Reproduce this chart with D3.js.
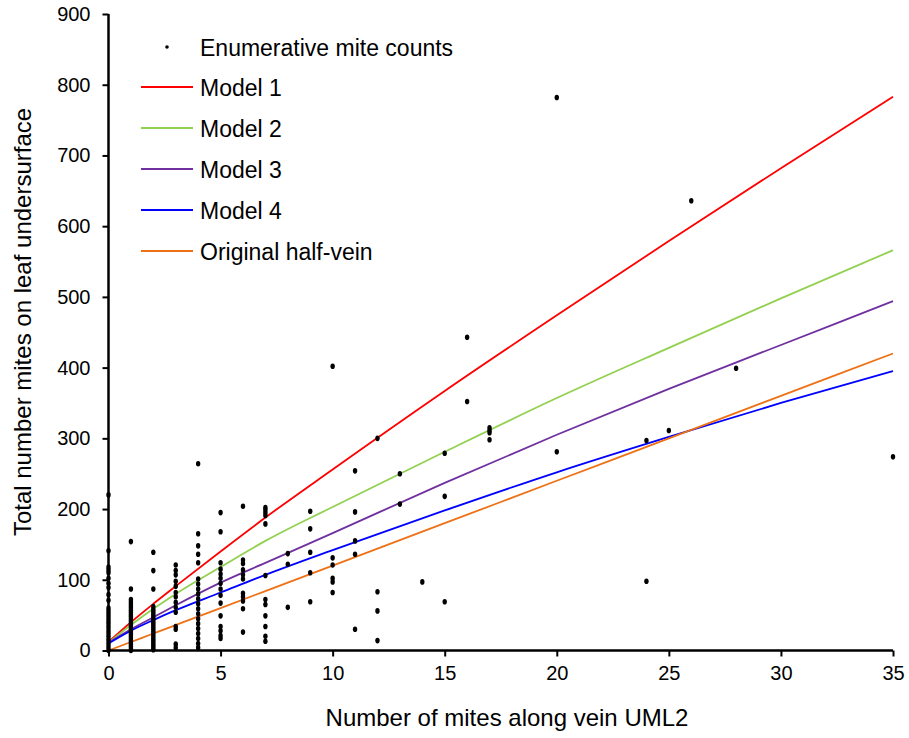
<!DOCTYPE html>
<html><head><meta charset="utf-8">
<script src="https://cdn.jsdelivr.net/npm/d3@7/dist/d3.min.js"></script>
<style>
body{margin:0;background:#fff}
svg{display:block}
text{font-family:Arial,"Liberation Sans",sans-serif;fill:#000}
</style>
</head><body>
<svg id="chart" width="909" height="738"></svg>
<script>
// ---- data ----
const xTicks = [0, 5, 10, 15, 20, 25, 30, 35];
const yTicks = [0, 100, 200, 300, 400, 500, 600, 700, 800, 900];

// enumerative mite counts, grouped by x (mites along vein UML2)
const countColumns = [0, 1, 2, 3, 4, 5, 6, 7, 8, 9, 10, 11, 12, 13, 14, 15, 16, 17, 20, 24, 25, 26, 28, 35];
const countValues = [
  [220, 141, 118, 114, 110, 102, 95, 89, 79, 71, 60, 56, 52, 48, 44, 40, 36, 32, 28, 24, 20, 16, 12, 8, 4, 0],
  [154, 87, 72, 69, 66, 63, 60, 57, 54, 51, 48, 45, 42, 39, 36, 33, 30, 27, 24, 21, 18, 15, 12, 9, 6, 3, 0],
  [139, 113, 87, 62, 58, 55, 52, 49, 46, 43, 40, 37, 34, 31, 28, 25, 22, 19, 16, 13, 10, 7, 4, 1],
  [121, 113, 107, 98, 91, 82, 76, 68, 61, 54, 34, 30, 9, 4],
  [264, 165, 148, 136, 124, 101, 94, 87, 80, 73, 66, 59, 52, 45, 38, 31, 24, 17, 10, 4],
  [195, 168, 124, 115, 108, 102, 95, 87, 78, 67, 49, 34, 28, 21, 17],
  [204, 128, 123, 114, 107, 101, 81, 76, 70, 59, 26],
  [202, 199, 195, 191, 179, 106, 72, 65, 49, 34, 20, 13],
  [137, 122, 61],
  [197, 172, 139, 110, 69],
  [402, 131, 121, 102, 97, 82],
  [254, 196, 155, 136, 30],
  [300, 83, 56, 14],
  [250, 207],
  [97],
  [279, 218, 69],
  [443, 352],
  [315, 311, 308, 298],
  [782, 281],
  [297, 98],
  [311],
  [636],
  [399],
  [274]
];

// model curves read at these x positions
const modelX = [0, 1, 2, 3, 5, 7, 10, 15, 20, 25, 30, 35];
const model1 = [12, 40, 66, 91, 140, 188, 256, 367, 474, 579, 682, 783];
const model2 = [11, 36, 59, 80, 118, 155, 203, 281, 357, 428, 498, 566];
const model3 = [11, 30, 47, 64, 96, 124, 166, 237, 305, 370, 432, 494];
const model4 = [10, 28, 43, 57, 82, 107, 142, 198, 252, 302, 350, 395];
const halfVein = [0, 12, 24, 36, 60, 84, 120, 180, 240, 300, 360, 420];

const seriesNames = ["Model 1", "Model 2", "Model 3", "Model 4", "Original half-vein"];
const seriesColors = ["#FF0000", "#92D050", "#7030A0", "#0000FF", "#EE7115"];
const pointLabel = "Enumerative mite counts";
const xTitle = "Number of mites along vein UML2";
const yTitle = "Total number mites on leaf undersurface";

// ---- build ----
const svg = d3.select("#chart");
svg.append("rect").attr("width", 909).attr("height", 738).attr("fill", "#fff");

const x = d3.scaleLinear().domain([0, 35]).range([108.5, 893]);
const y = d3.scaleLinear().domain([0, 900]).range([650.5, 14]);

const points = [];
countColumns.forEach((cx, i) => countValues[i].forEach(v => points.push([cx, v])));

const models = [model1, model2, model3, model4, halfVein];

const line = d3.line().x(d => x(d[0])).y(d => y(d[1])).curve(d3.curveMonotoneX);

// model lines
models.forEach((m, i) => {
  svg.append("path")
    .datum(modelX.map((xx, j) => [xx, m[j]]))
    .attr("d", line)
    .attr("fill", "none")
    .attr("stroke", seriesColors[i])
    .attr("stroke-width", 1.8);
});

// points
svg.append("g").selectAll("ellipse").data(points).join("ellipse")
  .attr("cx", d => x(d[0])).attr("cy", d => y(d[1]))
  .attr("rx", 2.2).attr("ry", 2.8).attr("fill", "#000");

// axes
const yAxis = svg.append("g").attr("transform", `translate(${x(0)},0)`)
  .call(d3.axisLeft(y).tickValues(yTicks).tickSize(6).tickPadding(12).tickFormat(d3.format("d")));
const xAxis = svg.append("g").attr("transform", `translate(0,${y(0)})`)
  .call(d3.axisBottom(x).tickValues(xTicks).tickSize(6).tickPadding(9).tickFormat(d3.format("d")));

[xAxis, yAxis].forEach(g => {
  g.select(".domain").attr("stroke", "#000").attr("stroke-width", 2.5);
  g.selectAll(".tick line").attr("stroke", "#000").attr("stroke-width", 2);
  g.selectAll(".tick text").attr("font-size", 20).attr("font-family", "Arial, 'Liberation Sans', sans-serif").attr("fill", "#000");
});
yAxis.select(".domain").attr("d", `M0,${y(900)}V${y(0)}`);
xAxis.select(".domain").attr("d", `M${x(0)},0H${x(35)}`);

// axis titles
svg.append("text").attr("x", 507).attr("y", 717)
  .attr("text-anchor", "middle").attr("dominant-baseline", "central")
  .attr("font-size", 24).text(xTitle);
svg.append("text").attr("transform", "translate(22,322) rotate(-90)")
  .attr("text-anchor", "middle").attr("dominant-baseline", "central")
  .attr("font-size", 24).text(yTitle);

// legend
const lg = svg.append("g");
lg.append("circle").attr("cx", 167).attr("cy", 47).attr("r", 1.8).attr("fill", "#000");
lg.append("text").attr("x", 200).attr("y", 48).attr("dominant-baseline", "central")
  .attr("font-size", 23).text(pointLabel);
const legY = [87, 128, 169, 210, 251];
seriesNames.forEach((n, i) => {
  lg.append("line").attr("x1", 141).attr("x2", 193).attr("y1", legY[i]).attr("y2", legY[i])
    .attr("stroke", seriesColors[i]).attr("stroke-width", 1.8);
  lg.append("text").attr("x", 200).attr("y", legY[i] + 1).attr("dominant-baseline", "central")
    .attr("font-size", 23).text(n);
});
</script>
</body></html>
